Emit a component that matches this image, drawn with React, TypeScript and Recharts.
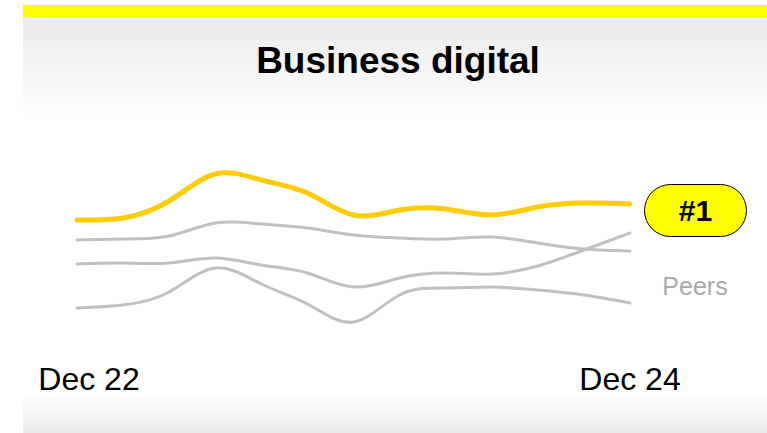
import React from 'react'
import { LineChart, Line, XAxis, YAxis } from 'recharts'

const months = ['Dec 22', 'Feb 23', 'Apr 23', 'Jun 23', 'Aug 23', 'Oct 23', 'Dec 23', 'Feb 24', 'Apr 24', 'Jun 24', 'Aug 24', 'Oct 24', 'Dec 24']
const business = [60, 61, 69.5, 83, 80, 73.5, 62.5, 65, 65.5, 62.5, 66.5, 68.5, 68]
const peerA = [50, 50.5, 52, 58.5, 58, 56, 52.5, 51, 50.5, 51.5, 48.5, 45.5, 44.5]
const peerB = [38, 38.5, 38.5, 41, 37.5, 33.5, 26.5, 31, 33.5, 33, 37, 45, 53.5]
const peerC = [16, 17.5, 24, 36, 28, 18, 9, 22.5, 26, 26.5, 25, 22.5, 18.5]
const tickLabels = ['Dec 22', 'Dec 24']

const data = months.map((m, i) => ({
  month: m,
  business: business[i],
  peerA: peerA[i],
  peerB: peerB[i],
  peerC: peerC[i],
}))

const font = '"Liberation Sans", Arial, sans-serif'

function DateTick(props: any) {
  const { x, y, payload, index } = props
  const shift = index === 0 ? 12 : 0
  return (
    <text x={x + shift} y={y} dy={42} textAnchor="middle" fontFamily={font} fontSize={32} fill="#000">
      {payload.value}
    </text>
  )
}

export default function App() {
  return (
    <div style={{ position: 'absolute', left: 0, top: 0, width: 767, height: 433, background: '#fff', fontFamily: font }}>
      <div
        style={{
          position: 'absolute', left: 23, top: 5, width: 744, height: 428,
          background: 'linear-gradient(to bottom, #ffff00 0px, #ffff00 12px, #eaeaea 12px, #ffffff 115px, #ffffff 388px, #ebebeb 428px)',
        }}
      />
      <div style={{ position: 'absolute', left: 23, top: 42, width: 750, lineHeight: '37px', textAlign: 'center', fontSize: 37, fontWeight: 'bold', color: '#000' }}>
        Business digital
      </div>
      <div style={{ position: 'absolute', left: 0, top: 0 }}>
        <LineChart width={767} height={433} data={data} margin={{ top: 140, right: 137, bottom: 33, left: 77 }}>
          <XAxis dataKey="month" ticks={tickLabels} interval={0} axisLine={false} tickLine={false} height={60} tick={<DateTick />} />
          <YAxis hide domain={[0, 100]} />
          <Line type="natural" dataKey="peerA" stroke="#c0c0c0" strokeWidth={3} dot={false} isAnimationActive={false} strokeLinecap="round" />
          <Line type="natural" dataKey="peerB" stroke="#c0c0c0" strokeWidth={3} dot={false} isAnimationActive={false} strokeLinecap="round" />
          <Line type="natural" dataKey="peerC" stroke="#c0c0c0" strokeWidth={3} dot={false} isAnimationActive={false} strokeLinecap="round" />
          <Line type="natural" dataKey="business" stroke="#ffcc00" strokeWidth={5} dot={false} isAnimationActive={false} strokeLinecap="round" />
        </LineChart>
      </div>
      <div
        style={{
          position: 'absolute', left: 644, top: 184, width: 103, height: 53, boxSizing: 'border-box',
          borderRadius: 27, background: '#ffff00', border: '1.5px solid #000',
          display: 'flex', alignItems: 'center', justifyContent: 'center',
          fontSize: 30, fontWeight: 'bold', color: '#000',
        }}
      >
        #1
      </div>
      <div style={{ position: 'absolute', left: 645, top: 271, width: 100, lineHeight: '30px', textAlign: 'center', fontSize: 25, color: '#aaaaaa' }}>
        Peers
      </div>
    </div>
  )
}
